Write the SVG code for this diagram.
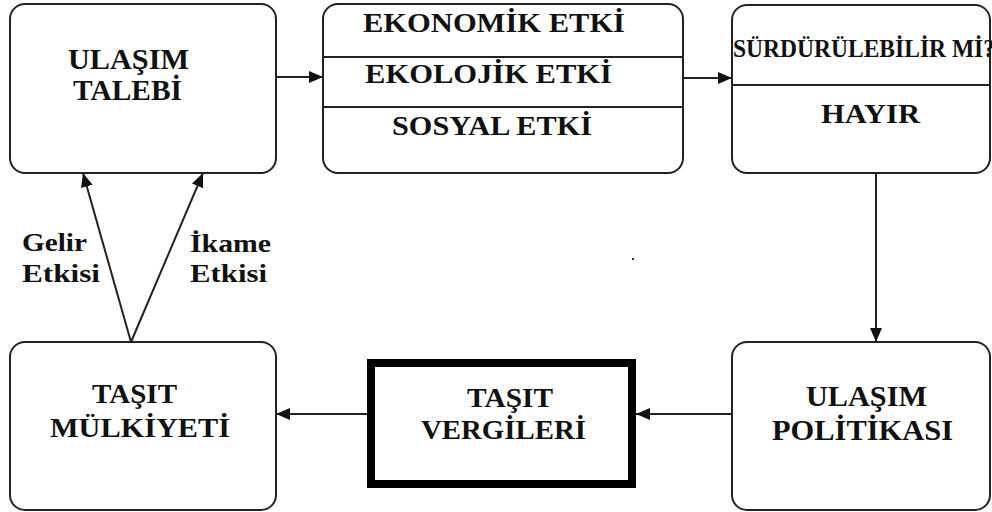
<svg xmlns="http://www.w3.org/2000/svg" width="992" height="512" viewBox="0 0 992 512">
  <style>
    .box { fill: #ffffff; stroke: #222222; stroke-width: 2; }
    .thick { fill: #ffffff; stroke: #000000; stroke-width: 8; }
    .div { stroke: #222222; stroke-width: 2; }
    .lbl { font-family: "Liberation Serif", "Times New Roman", serif; font-weight: bold; fill: #111111; }
    .conn { stroke: #222222; stroke-width: 2; fill: none; marker-end: url(#arrow); }
  </style>
  <defs>
    <marker id="arrow" markerUnits="userSpaceOnUse" markerWidth="15" markerHeight="13" refX="14" refY="6" orient="auto">
      <path d="M0,0 L14,6 L0,12 z" fill="#111111"/>
    </marker>
  </defs>
  <rect width="992" height="512" fill="#ffffff"/>

  <!-- transport demand -->
  <g id="ulasim-talebi">
    <rect class="box" x="10" y="4" width="266" height="169" rx="15"/>
    <text class="lbl" font-size="29" x="68" y="69" textLength="121" lengthAdjust="spacingAndGlyphs">ULAŞIM</text>
    <text class="lbl" font-size="29" x="73" y="100" textLength="109" lengthAdjust="spacingAndGlyphs">TALEBİ</text>
  </g>

  <!-- impacts -->
  <g id="etkiler">
    <rect class="box" x="323" y="4" width="360" height="169" rx="15"/>
    <line class="div" x1="323" y1="57" x2="683" y2="57"/>
    <line class="div" x1="323" y1="107" x2="683" y2="107"/>
    <text class="lbl" font-size="27" x="363" y="32" textLength="262" lengthAdjust="spacingAndGlyphs">EKONOMİK ETKİ</text>
    <text class="lbl" font-size="27" x="365" y="83" textLength="247" lengthAdjust="spacingAndGlyphs">EKOLOJİK ETKİ</text>
    <text class="lbl" font-size="27" x="392" y="135" textLength="200" lengthAdjust="spacingAndGlyphs">SOSYAL ETKİ</text>
  </g>

  <!-- sustainability question -->
  <g id="surdurulebilir">
    <rect class="box" x="732" y="5" width="258" height="168" rx="15"/>
    <line class="div" x1="732" y1="85" x2="990" y2="85"/>
    <text class="lbl" font-size="26" x="733" y="57" textLength="262" lengthAdjust="spacingAndGlyphs">SÜRDÜRÜLEBİLİR Mİ?</text>
    <text class="lbl" font-size="27" x="821" y="123" textLength="99" lengthAdjust="spacingAndGlyphs">HAYIR</text>
  </g>

  <!-- transport policy -->
  <g id="ulasim-politikasi">
    <rect class="box" x="732" y="342" width="258" height="168" rx="15"/>
    <text class="lbl" font-size="29" x="806" y="406" textLength="121" lengthAdjust="spacingAndGlyphs">ULAŞIM</text>
    <text class="lbl" font-size="29" x="772" y="440" textLength="181" lengthAdjust="spacingAndGlyphs">POLİTİKASI</text>
  </g>

  <!-- vehicle taxes -->
  <g id="tasit-vergileri">
    <rect class="thick" x="371" y="363" width="261" height="121"/>
    <text class="lbl" font-size="28" x="467" y="407" textLength="86" lengthAdjust="spacingAndGlyphs">TAŞIT</text>
    <text class="lbl" font-size="28" x="421" y="439" textLength="165" lengthAdjust="spacingAndGlyphs">VERGİLERİ</text>
  </g>

  <!-- vehicle ownership -->
  <g id="tasit-mulkiyeti">
    <rect class="box" x="10" y="342" width="266" height="168" rx="15"/>
    <text class="lbl" font-size="28" x="92" y="403" textLength="85" lengthAdjust="spacingAndGlyphs">TAŞIT</text>
    <text class="lbl" font-size="28" x="50" y="437" textLength="180" lengthAdjust="spacingAndGlyphs">MÜLKİYETİ</text>
  </g>

  <!-- edge labels -->
  <g id="gelir-etkisi">
    <text class="lbl" font-size="26" x="22" y="251" textLength="65" lengthAdjust="spacingAndGlyphs">Gelir</text>
    <text class="lbl" font-size="26" x="22" y="282" textLength="78" lengthAdjust="spacingAndGlyphs">Etkisi</text>
  </g>
  <g id="ikame-etkisi">
    <text class="lbl" font-size="26" x="190" y="252" textLength="81" lengthAdjust="spacingAndGlyphs">İkame</text>
    <text class="lbl" font-size="26" x="190" y="282" textLength="77" lengthAdjust="spacingAndGlyphs">Etkisi</text>
  </g>

  <g id="connectors">
    <line class="conn" x1="276" y1="77" x2="323" y2="77"/>
    <line class="conn" x1="683" y1="78" x2="732" y2="78"/>
    <line class="conn" x1="876" y1="173" x2="876" y2="342"/>
    <line class="conn" x1="732" y1="414" x2="636" y2="414"/>
    <line class="conn" x1="367" y1="414" x2="276" y2="414"/>
    <line class="conn" x1="131" y1="342" x2="83" y2="173"/>
    <line class="conn" x1="131" y1="342" x2="203" y2="173"/>
  </g>

  <rect x="632" y="258" width="2" height="2" fill="#333333"/>
</svg>
